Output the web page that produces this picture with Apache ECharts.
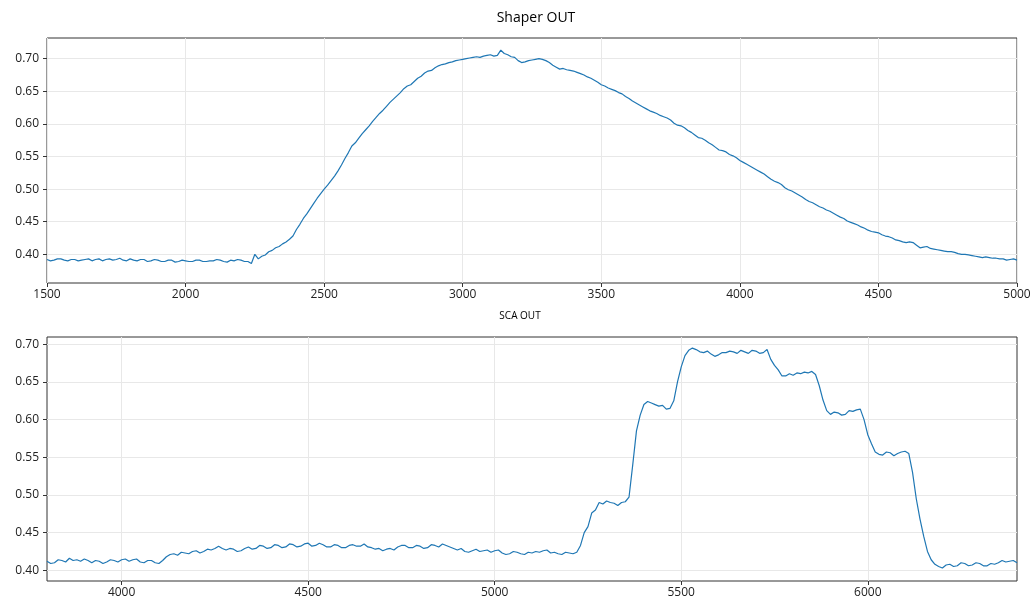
<!DOCTYPE html>
<html>
<head>
<meta charset="utf-8">
<script src="https://cdn.jsdelivr.net/npm/echarts@6/dist/echarts.min.js"></script>
<style>
html,body{margin:0;padding:0;background:#fff;}
#chart{width:1035px;height:602px;}
</style>
</head>
<body>
<div id="chart"></div>
<script>
// ---------- Data ----------
const shaperTitle = 'Shaper OUT';
const scaTitle = 'SCA OUT';

// Shaper OUT: samples from x = 1500 every 12.5 units (one row = 100 units)
const shaperStart = 1500;
const shaperStep = 12.5;
const shaperY = [
  0.392,0.390,0.391,0.393,0.393,0.391,0.390,0.392,
  0.392,0.390,0.391,0.392,0.393,0.390,0.392,0.393,
  0.390,0.392,0.393,0.391,0.392,0.394,0.391,0.390,
  0.393,0.391,0.390,0.392,0.392,0.389,0.390,0.392,
  0.391,0.389,0.389,0.391,0.391,0.388,0.389,0.391,
  0.390,0.389,0.389,0.391,0.391,0.389,0.389,0.390,
  0.390,0.392,0.391,0.389,0.388,0.391,0.390,0.392,
  0.391,0.389,0.389,0.386,0.400,0.393,0.397,0.399,
  0.404,0.406,0.410,0.412,0.416,0.419,0.423,0.428,
  0.438,0.446,0.455,0.462,0.470,0.478,0.486,0.493,
  0.500,0.506,0.513,0.520,0.528,0.537,0.547,0.556,
  0.566,0.571,0.578,0.585,0.591,0.597,0.604,0.610,
  0.616,0.621,0.627,0.633,0.638,0.643,0.648,0.654,
  0.658,0.660,0.665,0.670,0.673,0.678,0.681,0.682,
  0.686,0.689,0.691,0.692,0.694,0.695,0.697,0.698,
  0.699,0.700,0.701,0.702,0.703,0.702,0.704,0.705,
  0.706,0.704,0.705,0.713,0.708,0.706,0.703,0.702,
  0.697,0.694,0.695,0.697,0.698,0.699,0.700,0.699,
  0.697,0.694,0.690,0.687,0.684,0.685,0.683,0.682,
  0.681,0.679,0.677,0.675,0.672,0.670,0.667,0.664,
  0.660,0.658,0.655,0.653,0.651,0.648,0.646,0.642,
  0.639,0.635,0.632,0.629,0.626,0.623,0.620,0.618,
  0.616,0.613,0.611,0.609,0.606,0.601,0.598,0.597,
  0.594,0.590,0.587,0.583,0.579,0.578,0.575,0.571,
  0.568,0.564,0.560,0.559,0.557,0.553,0.551,0.548,
  0.544,0.541,0.538,0.535,0.532,0.529,0.526,0.523,
  0.519,0.515,0.512,0.510,0.507,0.502,0.499,0.497,
  0.494,0.491,0.488,0.484,0.481,0.479,0.476,0.473,
  0.471,0.468,0.466,0.463,0.460,0.457,0.455,0.451,
  0.449,0.447,0.445,0.442,0.440,0.437,0.435,0.434,
  0.433,0.430,0.428,0.427,0.425,0.422,0.421,0.419,
  0.418,0.419,0.418,0.414,0.410,0.411,0.412,0.409,
  0.408,0.407,0.406,0.405,0.404,0.404,0.403,0.401,
  0.400,0.400,0.399,0.398,0.397,0.396,0.395,0.396,
  0.395,0.394,0.394,0.393,0.393,0.391,0.392,0.393,
  0.391
];

// SCA OUT: samples from x = 3800 every 10 units (one row = 100 units)
const scaStart = 3800;
const scaStep = 10;
const scaY = [
  0.412,0.409,0.410,0.414,0.413,0.411,0.416,0.413,0.414,0.412,
  0.415,0.413,0.410,0.413,0.412,0.409,0.411,0.414,0.413,0.411,
  0.414,0.415,0.412,0.414,0.415,0.411,0.410,0.413,0.413,0.410,
  0.409,0.413,0.418,0.421,0.422,0.420,0.424,0.423,0.422,0.425,
  0.426,0.423,0.425,0.428,0.427,0.429,0.432,0.429,0.427,0.429,
  0.428,0.425,0.426,0.429,0.431,0.428,0.429,0.433,0.432,0.429,
  0.430,0.434,0.433,0.430,0.431,0.435,0.434,0.431,0.432,0.435,
  0.436,0.432,0.433,0.436,0.434,0.431,0.431,0.434,0.433,0.430,
  0.430,0.433,0.434,0.432,0.432,0.435,0.431,0.430,0.428,0.429,
  0.426,0.428,0.429,0.427,0.431,0.433,0.433,0.430,0.430,0.433,
  0.432,0.429,0.430,0.434,0.433,0.431,0.435,0.433,0.431,0.429,
  0.427,0.429,0.425,0.424,0.426,0.428,0.425,0.426,0.427,0.424,
  0.426,0.427,0.423,0.421,0.422,0.425,0.424,0.422,0.421,0.424,
  0.423,0.425,0.424,0.426,0.427,0.423,0.424,0.422,0.421,0.424,
  0.423,0.422,0.424,0.433,0.450,0.458,0.476,0.480,0.490,0.488,
  0.492,0.490,0.489,0.486,0.490,0.491,0.497,0.540,0.585,0.606,
  0.620,0.624,0.622,0.620,0.618,0.619,0.614,0.615,0.625,0.650,
  0.670,0.685,0.692,0.695,0.693,0.690,0.689,0.691,0.687,0.684,
  0.686,0.689,0.689,0.691,0.690,0.688,0.692,0.690,0.688,0.692,
  0.691,0.688,0.689,0.693,0.680,0.672,0.666,0.658,0.658,0.661,
  0.659,0.662,0.661,0.663,0.662,0.664,0.660,0.645,0.626,0.612,
  0.607,0.610,0.609,0.606,0.607,0.612,0.611,0.613,0.614,0.600,
  0.580,0.568,0.557,0.554,0.553,0.557,0.556,0.552,0.555,0.557,
  0.558,0.555,0.530,0.495,0.468,0.445,0.425,0.414,0.408,0.405,
  0.403,0.407,0.408,0.405,0.406,0.410,0.409,0.406,0.407,0.410,
  0.409,0.406,0.406,0.409,0.408,0.410,0.413,0.411,0.412,0.413,
  0.410
];

const topXTicks = [1500,2000,2500,3000,3500,4000,4500,5000];
const topYTicks = [0.40,0.45,0.50,0.55,0.60,0.65,0.70];
const botXTicks = [4000,4500,5000,5500,6000];
const botYTicks = [0.40,0.45,0.50,0.55,0.60,0.65,0.70];

// ---------- Chart ----------
const series = (start, step, ys) => ys.map((y, i) => [start + i * step, y]);
const FONT = '"Open Sans", "DejaVu Sans", sans-serif';
const lineColor = '#1f77b4';

function xAxis(gridIndex, min, max, ticks) {
  return {
    type: 'value', gridIndex, min, max,
    axisLine: {show: false},
    axisTick: {show: true, inside: false, length: 4, customValues: ticks, lineStyle: {color: '#333', width: 1}},
    axisLabel: {show: true, customValues: ticks, margin: 6, color: '#222', fontSize: 12, fontFamily: FONT,
      formatter: v => String(Math.round(v))},
    splitLine: {show: true, lineStyle: {color: '#e8e8e8', width: 1}}
  };
}
function yAxis(gridIndex, min, max, ticks) {
  return {
    type: 'value', gridIndex, min, max,
    axisLine: {show: false},
    axisTick: {show: true, inside: false, length: 4, customValues: ticks, lineStyle: {color: '#333', width: 1}},
    axisLabel: {show: true, customValues: ticks, margin: 8, color: '#222', fontSize: 12, fontFamily: FONT,
      formatter: v => v.toFixed(2)},
    splitLine: {show: true, lineStyle: {color: '#e8e8e8', width: 1}}
  };
}

const chart = echarts.init(document.getElementById('chart'), null, {renderer: 'canvas'});
chart.setOption({
  animation: false,
  backgroundColor: '#ffffff',
  graphic: [
    {type: 'text', x: 536, y: 18, style: {text: shaperTitle, align: 'center', verticalAlign: 'middle',
      font: '14px ' + FONT, fill: '#000'}},
    {type: 'text', x: 520, y: 316, style: {text: scaTitle, align: 'center', verticalAlign: 'middle',
      font: '10px ' + FONT, fill: '#000'}}
  ],
  grid: [
    {left: 47, top: 38, width: 970, height: 245, show: true, borderColor: '#333', borderWidth: 1, backgroundColor: 'transparent'},
    {left: 47, top: 337, width: 970, height: 244, show: true, borderColor: '#333', borderWidth: 1, backgroundColor: 'transparent'}
  ],
  xAxis: [
    xAxis(0, 1500, 5000, topXTicks),
    xAxis(1, 3800, 6400, botXTicks)
  ],
  yAxis: [
    yAxis(0, 0.356, 0.7317, topYTicks),
    yAxis(1, 0.3858, 0.7097, botYTicks)
  ],
  series: [
    {type: 'line', xAxisIndex: 0, yAxisIndex: 0, data: series(shaperStart, shaperStep, shaperY), showSymbol: false,
      lineStyle: {color: lineColor, width: 1.2}, itemStyle: {color: lineColor}},
    {type: 'line', xAxisIndex: 1, yAxisIndex: 1, data: series(scaStart, scaStep, scaY), showSymbol: false,
      lineStyle: {color: lineColor, width: 1.2}, itemStyle: {color: lineColor}}
  ]
});
</script>
</body>
</html>
